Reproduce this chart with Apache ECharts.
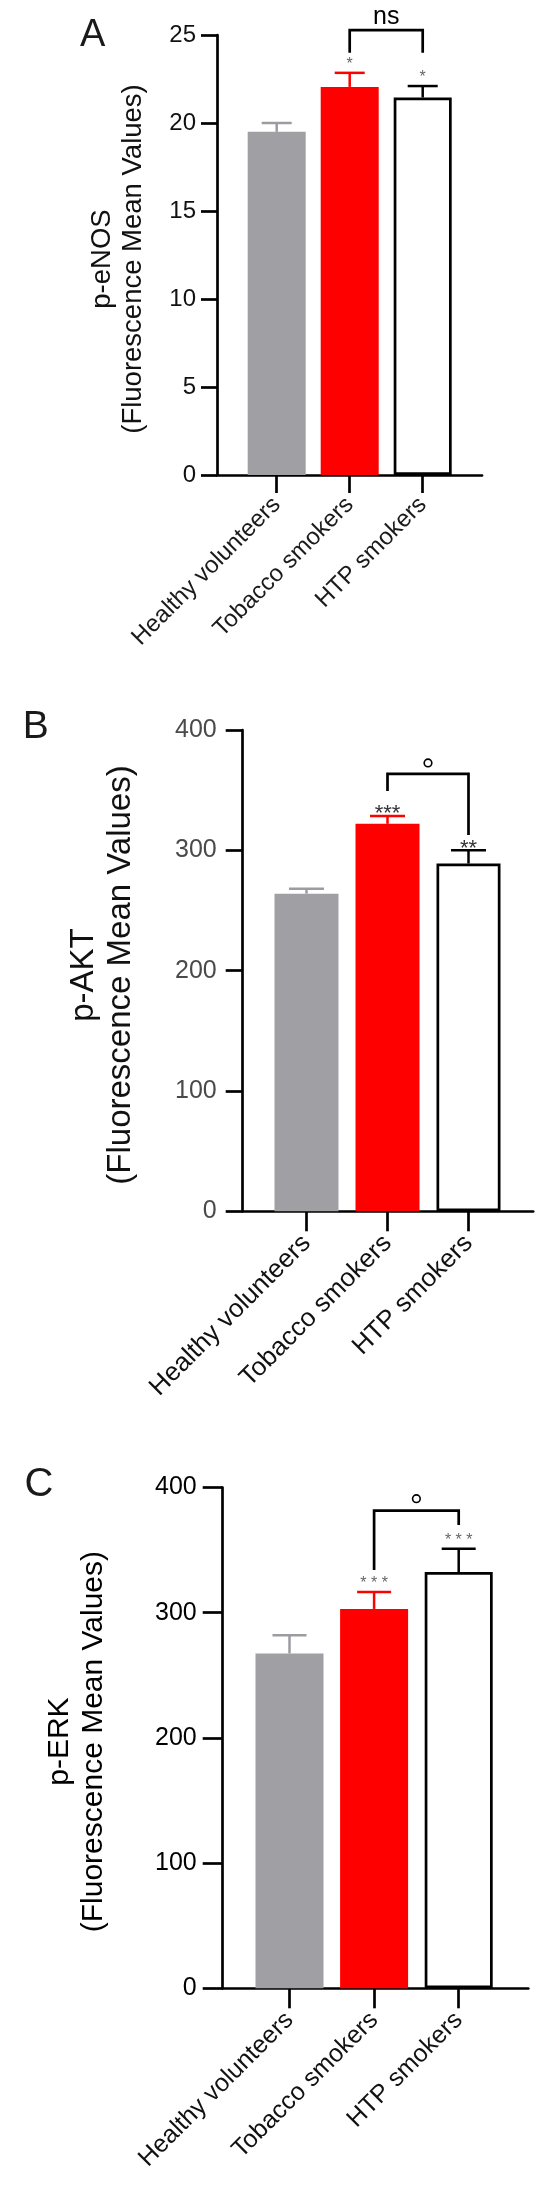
<!DOCTYPE html>
<html><head><meta charset="utf-8">
<script src="https://cdn.jsdelivr.net/npm/echarts@6/dist/echarts.min.js"></script>
<style>html,body{margin:0;padding:0;background:#fff}#c{width:550px;height:2209px}</style>
</head><body><div id="c"></div>
<script>
// ---------------- data ----------------
const categories = ['Healthy volunteers', 'Tobacco smokers', 'HTP smokers'];

const eNOSMeans  = [19.5, 22.05, 21.45];
const eNOSErrors = [0.5, 0.8, 0.65];
const eNOSStars  = ['', '*', '*'];
const eNOSTicks  = [0, 5, 10, 15, 20, 25];
const eNOSBracket = [1, 2, 25.28, 23.99, 23.99]; // from, to, top, left end, right end
const eNOSBracketLabel = 'ns';

const aktMeans  = [264, 322, 289];
const aktErrors = [4, 6.6, 11];
const aktStars  = ['', '***', '**'];
const aktTicks  = [0, 100, 200, 300, 400];
const aktBracket = [1, 2, 363.5, 349.4, 312.8];
const aktBracketLabel = '°';

const erkMeans  = [267.5, 303, 332.5];
const erkErrors = [14.5, 13.5, 18.5];
const erkStars  = ['', '* * *', '* * *'];
const erkTicks  = [0, 100, 200, 300, 400];
const erkBracket = [1, 2, 381.5, 334.1, 370];
const erkBracketLabel = '°';

const panelLetters = ['A', 'B', 'C'];
const yTitles = ['p-eNOS\n(Fluorescence Mean Values)', 'p-AKT\n(Fluorescence Mean Values)', 'p-ERK\n(Fluorescence Mean Values)'];

// ---------------- styles / layout ----------------
const FONT = 'Liberation Sans, Arial, sans-serif';
const barColors    = ['#a09fa4', '#ff0000', '#ffffff'];
const barBorders   = ['#a09fa4', '#ff0000', '#000000'];
const barBorderW   = [0, 0, 2.7];
const errColors    = ['#9c9ba0', '#ff0000', '#000000'];
const LW = 2.7;

const panels = [
  { means: eNOSMeans, errs: eNOSErrors, stars: eNOSStars, ticks: eNOSTicks, bracket: eNOSBracket, blabel: eNOSBracketLabel,
    axisX: 217, xEnd: 482, top: 35, zero: 475, barLeft: 240.2, barSpan: 219, barW: 58, capW: 30,
    yTick: 16, xTick: 18, tickFont: 24, tickColor: '#111', labMargin: 21,
    catFont: 24, catMargin: 26, catColor: '#1a1a1a',
    titleFont: 27.5, titleLH: 31, titleX: 118, titleY: 259, titleColor: '#111',
    letterX: 80, letterY: 36, letterFont: 38,
    starFont: 16, starColor: '#666', starOff: 8, labelFont: 25, labelOff: 13 },
  { means: aktMeans, errs: aktErrors, stars: aktStars, ticks: aktTicks, bracket: aktBracket, blabel: aktBracketLabel,
    axisX: 242.7, xEnd: 533.2, top: 730, zero: 1211.3, barLeft: 266, barSpan: 243, barW: 64, capW: 35,
    yTick: 17, xTick: 20, tickFont: 25, tickColor: '#4a4a4a', labMargin: 26,
    catFont: 26, catMargin: 28, catColor: '#111',
    titleFont: 33, titleLH: 37, titleX: 102.5, titleY: 975, titleColor: '#111',
    letterX: 22.7, letterY: 727.5, letterFont: 39,
    starFont: 22, starColor: '#333', starOff: 1.5, labelFont: 25, labelOff: 11 },
  { means: erkMeans, errs: erkErrors, stars: erkStars, ticks: erkTicks, bracket: erkBracket, blabel: erkBracketLabel,
    axisX: 222.7, xEnd: 528.3, top: 1487.5, zero: 1988.3, barLeft: 247.2, barSpan: 253.8, barW: 68, capW: 34,
    yTick: 20, xTick: 20, tickFont: 25, tickColor: '#000', labMargin: 26,
    catFont: 25, catMargin: 28, catColor: '#111',
    titleFont: 30, titleLH: 34, titleX: 76.5, titleY: 1741.6, titleColor: '#000',
    letterX: 24.5, letterY: 1484.7, letterFont: 40,
    starFont: 16, starColor: '#666', starOff: 8.2, labelFont: 25, labelOff: 12 }
];

const grid = [], xAxis = [], yAxis = [], series = [], graphic = [];

panels.forEach((p, k) => {
  const yMax = p.ticks[p.ticks.length - 1];
  const yInt = p.ticks[1] - p.ticks[0];
  const h = p.zero - p.top;
  grid.push({ left: p.axisX, top: p.top, width: p.xEnd - p.axisX, height: h, outerBoundsMode: 'none', containLabel: false });
  grid.push({ left: p.barLeft, top: p.top, width: p.barSpan, height: h, outerBoundsMode: 'none', containLabel: false });
  const gA = 2 * k, gB = 2 * k + 1;

  xAxis.push({ gridIndex: gA, type: 'value', min: 0, max: 1,
    axisLine: { show: true, lineStyle: { color: '#000', width: LW } },
    axisTick: { show: false }, axisLabel: { show: false }, splitLine: { show: false } });
  xAxis.push({ gridIndex: gB, type: 'category', data: categories,
    axisLine: { show: false },
    axisTick: { show: true, alignWithLabel: true, length: p.xTick, lineStyle: { color: '#000', width: LW } },
    axisLabel: { interval: 0, rotate: 45, margin: p.catMargin, fontSize: p.catFont, fontFamily: FONT, color: p.catColor },
    splitLine: { show: false } });

  yAxis.push({ gridIndex: gA, type: 'value', min: 0, max: yMax, interval: yInt,
    axisLine: { show: true, lineStyle: { color: '#000', width: LW } },
    axisTick: { show: true, inside: false, length: p.yTick, lineStyle: { color: '#000', width: LW } },
    axisLabel: { margin: p.labMargin, fontSize: p.tickFont, fontFamily: FONT, color: p.tickColor },
    splitLine: { show: false } });
  yAxis.push({ gridIndex: gB, type: 'value', min: 0, max: yMax, interval: yInt, show: false, splitLine: { show: false } });

  const xi = 2 * k + 1, yi = 2 * k + 1;

  series.push({ type: 'bar', xAxisIndex: xi, yAxisIndex: yi, barWidth: p.barW, silent: true,
    data: p.means.map((v, i) => ({ value: v, itemStyle: { color: barColors[i], borderColor: barBorders[i], borderWidth: barBorderW[i] } })),
    z: 2 });

  series.push({ type: 'custom', xAxisIndex: xi, yAxisIndex: yi, silent: true, z: 3,
    data: p.means.map((v, i) => [i, v, p.errs[i]]),
    renderItem: (params, api) => {
      const i = api.value(0), m = api.value(1), e = api.value(2);
      const b = api.coord([i, m]), t = api.coord([i, m + e]);
      const c = errColors[i];
      const kids = [
        { type: 'line', shape: { x1: b[0], y1: b[1], x2: t[0], y2: t[1] }, style: { stroke: c, lineWidth: 2.5 } },
        { type: 'line', shape: { x1: t[0] - p.capW / 2, y1: t[1], x2: t[0] + p.capW / 2, y2: t[1] }, style: { stroke: c, lineWidth: 2.5 } }
      ];
      if (p.stars[i]) kids.push({ type: 'text', x: t[0], y: t[1] - p.starOff,
        style: { text: p.stars[i], fill: p.starColor, font: p.starFont + 'px ' + FONT, textAlign: 'center', textVerticalAlign: 'middle' } });
      return { type: 'group', children: kids };
    } });

  series.push({ type: 'custom', xAxisIndex: xi, yAxisIndex: yi, silent: true, z: 4, clip: false,
    data: [p.bracket],
    renderItem: (params, api) => {
      const a = api.coord([api.value(0), api.value(2)]);
      const bb = api.coord([api.value(1), api.value(2)]);
      const l = api.coord([api.value(0), api.value(3)]);
      const r = api.coord([api.value(1), api.value(4)]);
      const kids = [{ type: 'polyline', shape: { points: [[l[0], l[1]], [a[0], a[1]], [bb[0], bb[1]], [r[0], r[1]]] },
        style: { stroke: '#000', lineWidth: LW, fill: null } }];
      const cx = (a[0] + bb[0]) / 2;
      if (p.blabel === '°') {
        kids.push({ type: 'circle', shape: { cx: cx, cy: a[1] - p.labelOff, r: 3.8 }, style: { stroke: '#000', lineWidth: 1.6, fill: '#fff' } });
      } else {
        kids.push({ type: 'text', x: cx, y: a[1] - p.labelOff,
          style: { text: p.blabel, fill: '#000', font: p.labelFont + 'px ' + FONT, textAlign: 'center', textVerticalAlign: 'middle' } });
      }
      return { type: 'group', children: kids };
    } });

  graphic.push({ type: 'text', x: p.letterX, y: p.letterY,
    style: { text: panelLetters[k], fill: '#1a1a1a', font: p.letterFont + 'px ' + FONT, textAlign: 'left', textVerticalAlign: 'middle' } });
  graphic.push({ type: 'text', x: p.titleX, y: p.titleY, rotation: Math.PI / 2,
    style: { text: yTitles[k], fill: p.titleColor, font: p.titleFont + 'px ' + FONT, lineHeight: p.titleLH, textAlign: 'center', textVerticalAlign: 'middle' } });
});

const chart = echarts.init(document.getElementById('c'), null, { renderer: 'canvas', width: 550, height: 2209 });
chart.setOption({ animation: false, backgroundColor: '#fff', grid, xAxis, yAxis, series, graphic });
</script></body></html>
